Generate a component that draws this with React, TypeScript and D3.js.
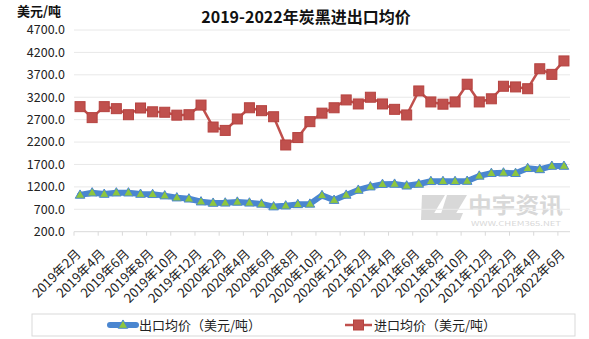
import React from "react";
import * as d3 from "d3";

const months: string[] = [
  "2019年2月","2019年3月","2019年4月","2019年5月","2019年6月","2019年7月","2019年8月","2019年9月","2019年10月","2019年11月","2019年12月",
  "2020年1月","2020年2月","2020年3月","2020年4月","2020年5月","2020年6月","2020年7月","2020年8月","2020年9月","2020年10月","2020年11月","2020年12月",
  "2021年1月","2021年2月","2021年3月","2021年4月","2021年5月","2021年6月","2021年7月","2021年8月","2021年9月","2021年10月","2021年11月","2021年12月",
  "2022年1月","2022年2月","2022年3月","2022年4月","2022年5月","2022年6月",
];

const exportPrice: number[] = [
  1020, 1070, 1040, 1070, 1070, 1040, 1035, 1005, 960, 935, 870,
  840, 845, 865, 845, 820, 760, 780, 810, 820, 1010, 905, 1020,
  1130, 1205, 1260, 1265, 1225, 1265, 1325, 1325, 1325, 1330, 1445, 1505,
  1515, 1505, 1615, 1590, 1665, 1665,
];

const importPrice: number[] = [
  2990, 2745, 2990, 2945, 2810, 2960, 2875, 2865, 2800, 2810, 3025,
  2535, 2460, 2715, 2965, 2900, 2765, 2135, 2300, 2655, 2845, 2965, 3140,
  3050, 3200, 3050, 2930, 2805, 3340, 3095, 3045, 3095, 3490, 3095, 3165,
  3445, 3430, 3390, 3835, 3710, 4010,
];

const yTicks: number[] = [200, 700, 1200, 1700, 2200, 2700, 3200, 3700, 4200, 4700];

const title = "2019-2022年炭黑进出口均价";
const unitLabel = "美元/吨";
const exportName = "出口均价（美元/吨）";
const importName = "进口均价（美元/吨）";

const FONT = "'Noto Sans CJK SC', 'Noto Sans', sans-serif";
const BLUE = "#4A86D0";
const GREEN = "#8DC63F";
const RED = "#C0504D";

export default function App() {
  const W = 589, H = 339;
  const left = 74, right = 570, top = 30, bottom = 231.7;
  const x = d3.scaleBand<number>().domain(months.map((_, i) => i)).range([left, right]).padding(0);
  const bw = x.bandwidth();
  const cx = (i: number) => (x(i) as number) + bw / 2;
  const y = d3.scaleLinear().domain([200, 4700]).range([bottom, top]);

  const line = d3.line<number>().x((_, i) => cx(i)).y((d) => y(d));
  const tri = d3.symbol().type(d3.symbolTriangle).size(40)();

  return (
    <svg width={W} height={H} style={{ position: "absolute", left: 0, top: 0, background: "#fff" }} fontFamily={FONT}>
      <rect x={0} y={0} width={W} height={H} fill="#fff" />
      {/* watermark */}
      <g opacity={0.55}>
        <path d="M422,195 L445,195 L430,220 L421,220 Z M447,195 L467,195 L452,220 L439,220 Z M428,213 L463,213 L460,220 L425,220 Z" fill="#b9b9b9" />
        <text x={468} y={213} fontSize={22} fontWeight={700} fill="#b9b9b9" textLength={95} lengthAdjust="spacingAndGlyphs">中宇资讯</text>
        <text x={471} y={226} fontSize={6.5} fill="#b9b9b9" textLength={90} lengthAdjust="spacingAndGlyphs">WWW.CHEM365.NET</text>
      </g>
      {/* gridlines */}
      {yTicks.map((t) => (
        <line key={t} x1={left} x2={right} y1={y(t)} y2={y(t)} stroke={t === 200 ? "#D9D9D9" : "#E8E8E8"} strokeWidth={1} />
      ))}
      {yTicks.map((t) => (
        <text key={"l" + t} x={65} y={y(t)} dy="0.35em" textAnchor="end" fontSize={12.5} fill="#222">{t.toFixed(1)}</text>
      ))}
      {/* x ticks */}
      {months.map((_, i) =>
        i % 2 === 0 ? (
          <line key={"t" + i} x1={x(i)} x2={x(i)} y1={bottom} y2={bottom + 4} stroke="#D9D9D9" />
        ) : null
      )}
      {months.map((m, i) =>
        i % 2 === 0 ? (
          <text key={"x" + i} transform={`translate(${cx(i) - 1.5},${251.5}) rotate(-45)`} textAnchor="end" dy="0.35em" fontSize={13} fill="#222">{m}</text>
        ) : null
      )}
      {/* export series */}
      <path d={line(exportPrice) || ""} fill="none" stroke={BLUE} strokeWidth={6} strokeLinejoin="round" strokeLinecap="round" />
      {exportPrice.map((v, i) => (
        <path key={"e" + i} d={tri || ""} transform={`translate(${cx(i)},${y(v) + 0.5})`} fill={GREEN} stroke={BLUE} strokeWidth={1} />
      ))}
      {/* import series */}
      <path d={line(importPrice) || ""} fill="none" stroke={RED} strokeWidth={2.5} strokeLinejoin="round" />
      {importPrice.map((v, i) => (
        <rect key={"r" + i} x={cx(i) - 5} y={y(v) - 5} width={10} height={10} fill={RED} stroke="#B5423F" strokeWidth={1} />
      ))}
      {/* title */}
      <text x={306} y={23} textAnchor="middle" fontSize={16} fontWeight={700} fill="#111">{title}</text>
      <text x={17} y={15.5} fontSize={13} fontWeight={700} fill="#111">{unitLabel}</text>
      {/* legend */}
      <rect x={32} y={314} width={543} height={22} fill="#fff" stroke="#D9D9D9" />
      <line x1={110} x2={136} y1={325} y2={325} stroke={BLUE} strokeWidth={6} strokeLinecap="round" />
      <path d={tri || ""} transform="translate(123,325.5)" fill={GREEN} stroke={BLUE} strokeWidth={1} />
      <text x={139} y={325} dy="0.35em" fontSize={13} fill="#222">{exportName}</text>
      <line x1={345} x2={372} y1={325} y2={325} stroke={RED} strokeWidth={2.5} />
      <rect x={353.5} y={320} width={10} height={10} fill={RED} stroke="#B5423F" />
      <text x={374} y={325} dy="0.35em" fontSize={13} fill="#222">{importName}</text>
    </svg>
  );
}
